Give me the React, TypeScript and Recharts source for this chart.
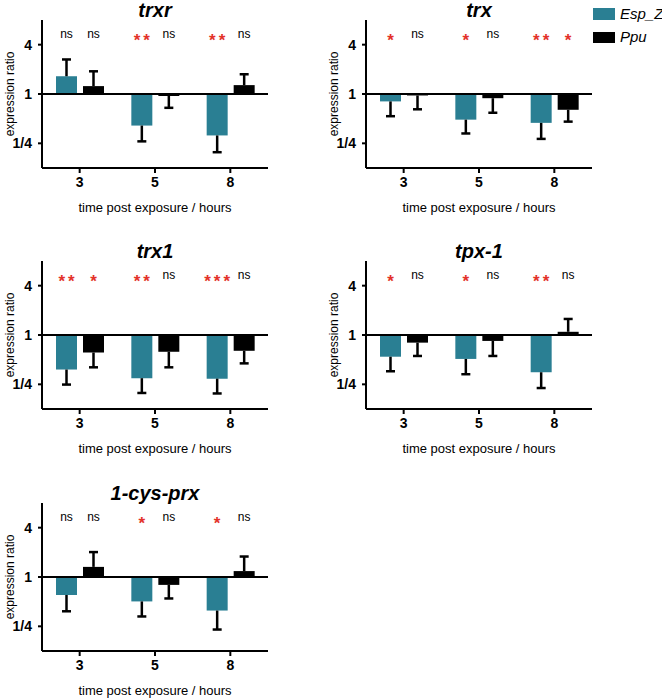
import React from 'react';
import { BarChart, Bar, XAxis, YAxis, ReferenceLine } from 'recharts';

const TEAL = '#2a7f93';
const RED = '#e3322a';
const FONT = '"Liberation Sans", Arial, sans-serif';

const hours = ['3', '5', '8'];
const yTicks = [-2, 0, 2];
const yTickLabels: Record<string, string> = { '-2': '1/4', '0': '1', '2': '4' };

// values are log2(expression ratio), errors are SD in the same units
const trxrEsp = [0.72, -1.28, -1.68];
const trxrEspErr = [0.68, 0.64, 0.68];
const trxrPpu = [0.32, -0.08, 0.36];
const trxrPpuErr = [0.6, 0.48, 0.44];
const trxrEspSig = ['ns', '**', '**'];
const trxrPpuSig = ['ns', 'ns', 'ns'];

const trxEsp = [-0.3, -1.04, -1.17];
const trxEspErr = [0.6, 0.56, 0.65];
const trxPpu = [-0.06, -0.17, -0.64];
const trxPpuErr = [0.56, 0.59, 0.48];
const trxEspSig = ['*', '*', '**'];
const trxPpuSig = ['ns', 'ns', '*'];

const trx1Esp = [-1.4, -1.75, -1.77];
const trx1EspErr = [0.61, 0.6, 0.6];
const trx1Ppu = [-0.71, -0.68, -0.64];
const trx1PpuErr = [0.6, 0.63, 0.51];
const trx1EspSig = ['**', '**', '***'];
const trx1PpuSig = ['*', 'ns', 'ns'];

const tpxEsp = [-0.88, -0.97, -1.51];
const tpxEspErr = [0.59, 0.62, 0.64];
const tpxPpu = [-0.31, -0.24, 0.13];
const tpxPpuErr = [0.54, 0.61, 0.52];
const tpxEspSig = ['*', '*', '**'];
const tpxPpuSig = ['ns', 'ns', 'ns'];

const prxEsp = [-0.73, -0.99, -1.36];
const prxEspErr = [0.66, 0.61, 0.77];
const prxPpu = [0.41, -0.32, 0.24];
const prxPpuErr = [0.6, 0.55, 0.59];
const prxEspSig = ['ns', '*', '*'];
const prxPpuSig = ['ns', 'ns', 'ns'];

function errShape(errKey: string, sigKey: string) {
    return (p: any) => {
        const down = p.payload[errKey] < 0;
        const y1 = Math.min(p.y, p.y + p.height);
        const y2 = Math.max(p.y, p.y + p.height);
        const cx = p.x + p.width / 2;
        const capY = down ? y2 : y1;
        const sig = p.payload[sigKey];
        const star = sig !== 'ns';
        return (
            <g>
                <line x1={cx} x2={cx} y1={y1} y2={y2} stroke="#000" strokeWidth={2.5} />
                <line x1={cx - 4.5} x2={cx + 4.5} y1={capY} y2={capY} stroke="#000" strokeWidth={2.5} />
                {star ? (
                    <text
                        x={cx + 1.5}
                        y={46}
                        textAnchor="middle"
                        fill={RED}
                        fontSize={17}
                        fontWeight="bold"
                        letterSpacing={3}
                        fontFamily={FONT}
                    >
                        {sig}
                    </text>
                ) : (
                    <text x={cx} y={38} textAnchor="middle" fill="#000" fontSize={12} fontFamily={FONT}>
                        {sig}
                    </text>
                )}
            </g>
        );
    };
}

interface PanelProps {
    title: string;
    left: number;
    top: number;
    esp: number[];
    espErr: number[];
    ppu: number[];
    ppuErr: number[];
    espSig: string[];
    ppuSig: string[];
}

function Panel({ title, left, top, esp, espErr, ppu, ppuErr, espSig, ppuSig }: PanelProps) {
    const data = hours.map((h, i) => ({
        hour: h,
        esp: esp[i],
        espErr: (esp[i] < 0 ? -1 : 1) * espErr[i],
        ppu: ppu[i],
        ppuErr: (ppu[i] < 0 ? -1 : 1) * ppuErr[i],
        espSig: espSig[i],
        ppuSig: ppuSig[i],
    }));
    const axisStyle = { stroke: '#000', strokeWidth: 2 };
    return (
        <div style={{ position: 'absolute', left, top, width: 300, height: 215 }}>
            <BarChart
                width={300}
                height={215}
                data={data}
                margin={{ top: 20, right: 32, bottom: 2, left: 5 }}
                barSize={21}
                barGap={6}
            >
                <XAxis
                    dataKey="hour"
                    height={45}
                    tickSize={5}
                    tickMargin={4}
                    axisLine={axisStyle}
                    tickLine={axisStyle}
                    tick={{ fill: '#000', fontSize: 14, fontWeight: 'bold', fontFamily: FONT }}
                    label={{
                        value: 'time post exposure / hours',
                        position: 'insideBottom',
                        offset: 1,
                        fill: '#000',
                        fontSize: 13,
                        fontFamily: FONT,
                    }}
                />
                <YAxis
                    type="number"
                    domain={[-3, 3]}
                    ticks={yTicks}
                    allowDataOverflow
                    width={37}
                    tickSize={4}
                    tickMargin={6}
                    axisLine={axisStyle}
                    tickLine={axisStyle}
                    tickFormatter={(v) => yTickLabels[String(v)]}
                    tick={{ fill: '#000', fontSize: 14, fontWeight: 'bold', fontFamily: FONT }}
                    label={{
                        value: 'expression ratio',
                        angle: -90,
                        position: 'insideLeft',
                        offset: 5,
                        fill: '#000',
                        fontSize: 12,
                        fontFamily: FONT,
                        style: { textAnchor: 'middle' },
                    }}
                />
                <Bar dataKey="esp" stackId="esp" fill={TEAL} isAnimationActive={false} />
                <Bar dataKey="espErr" stackId="esp" fill="none" shape={errShape('espErr', 'espSig')} isAnimationActive={false} />
                <Bar dataKey="ppu" stackId="ppu" fill="#000" isAnimationActive={false} />
                <Bar dataKey="ppuErr" stackId="ppu" fill="none" shape={errShape('ppuErr', 'ppuSig')} isAnimationActive={false} />
                <ReferenceLine y={0} stroke="#000" strokeWidth={2} />
            </BarChart>
            <div
                style={{
                    position: 'absolute',
                    left: 42,
                    top: 0,
                    width: 226,
                    textAlign: 'center',
                    fontFamily: FONT,
                    fontSize: 20,
                    lineHeight: '20px',
                    fontWeight: 'bold',
                    fontStyle: 'italic',
                    color: '#000',
                }}
            >
                {title}
            </div>
        </div>
    );
}

export default function App() {
    const legendText = {
        position: 'absolute' as const,
        left: 620,
        fontFamily: FONT,
        fontSize: 15,
        lineHeight: '15px',
        fontStyle: 'italic',
        color: '#000',
    };
    return (
        <div style={{ position: 'absolute', left: 0, top: 0, width: 662, height: 698, background: '#fff' }}>
            <Panel title="trxr" left={0} top={0} esp={trxrEsp} espErr={trxrEspErr} ppu={trxrPpu} ppuErr={trxrPpuErr} espSig={trxrEspSig} ppuSig={trxrPpuSig} />
            <Panel title="trx" left={324} top={0} esp={trxEsp} espErr={trxEspErr} ppu={trxPpu} ppuErr={trxPpuErr} espSig={trxEspSig} ppuSig={trxPpuSig} />
            <Panel title="trx1" left={0} top={241} esp={trx1Esp} espErr={trx1EspErr} ppu={trx1Ppu} ppuErr={trx1PpuErr} espSig={trx1EspSig} ppuSig={trx1PpuSig} />
            <Panel title="tpx-1" left={324} top={241} esp={tpxEsp} espErr={tpxEspErr} ppu={tpxPpu} ppuErr={tpxPpuErr} espSig={tpxEspSig} ppuSig={tpxPpuSig} />
            <Panel title="1-cys-prx" left={0} top={483} esp={prxEsp} espErr={prxEspErr} ppu={prxPpu} ppuErr={prxPpuErr} espSig={prxEspSig} ppuSig={prxPpuSig} />
            <div style={{ position: 'absolute', left: 593, top: 8, width: 22, height: 12, background: TEAL }} />
            <div style={{ ...legendText, top: 6 }}>Esp_Z</div>
            <div style={{ position: 'absolute', left: 593, top: 32, width: 22, height: 11, background: '#000' }} />
            <div style={{ ...legendText, top: 29 }}>Ppu</div>
        </div>
    );
}
